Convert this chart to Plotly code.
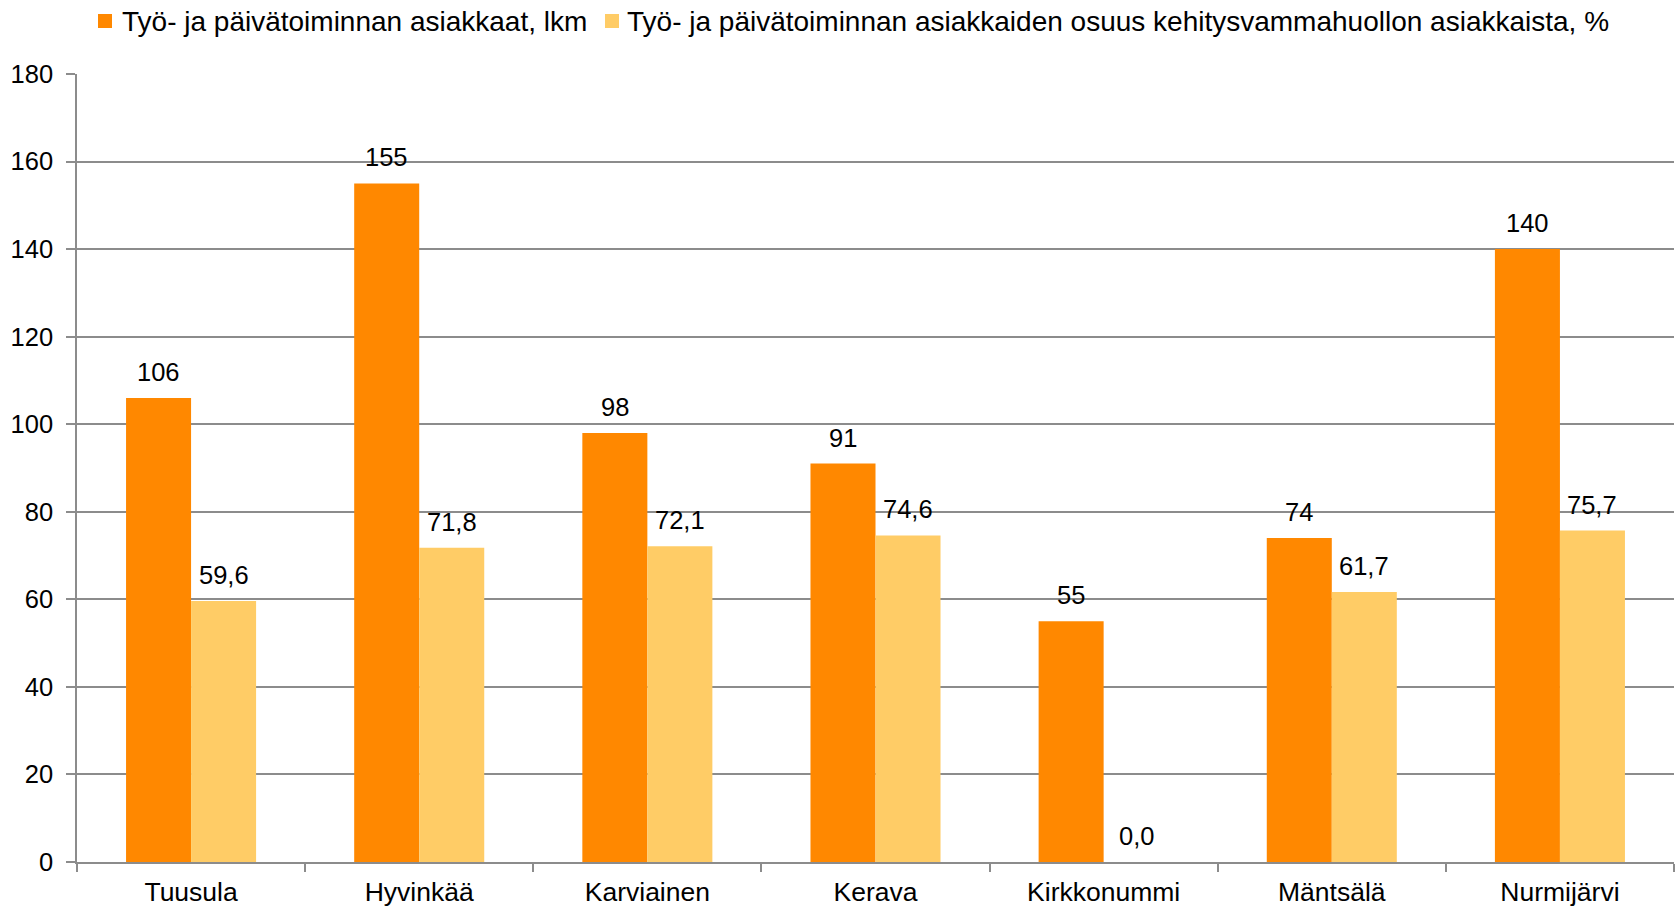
import plotly.graph_objects as go

# Municipalities and the two series
municipalities = ["Tuusula", "Hyvinkää", "Karviainen", "Kerava", "Kirkkonummi", "Mäntsälä", "Nurmijärvi"]
clients_count = [106, 155, 98, 91, 55, 74, 140]
clients_share = [59.6, 71.8, 72.1, 74.6, 0.0, 61.7, 75.7]

series_names = [
    "Työ- ja päivätoiminnan asiakkaat, lkm",
    "Työ- ja päivätoiminnan asiakkaiden osuus kehitysvammahuollon asiakkaista, %",
]
series_colors = ["#FF8800", "#FFCC66"]

y_ticks = [0, 20, 40, 60, 80, 100, 120, 140, 160, 180]

FONT = "Liberation Sans, Arial, sans-serif"
FS_LABEL = 25.5
FS_XTICK = 26.5
FS_YTICK = 25.5
FS_LEGEND = 28
W, H = 1680, 909
M_L, M_R, M_T, M_B = 77, 6, 74, 47
plot_w = W - M_L - M_R
plot_h = H - M_T - M_B


def fmt(v, decimals):
    return f"{v:.{decimals}f}".replace(".", ",")


fig = go.Figure()
fig.add_trace(go.Bar(x=municipalities, y=clients_count, name=series_names[0],
                     marker=dict(color=series_colors[0], line=dict(width=0))))
fig.add_trace(go.Bar(x=municipalities, y=clients_share, name=series_names[1],
                     marker=dict(color=series_colors[1], line=dict(width=0))))

bargap = 0.43
cat_px = plot_w / len(municipalities)
bar_px = cat_px * (1 - bargap) / 2

# value labels above each bar
for vals, dec, side in [(clients_count, 0, -1), (clients_share, 1, 1)]:
    for name, v in zip(municipalities, vals):
        fig.add_annotation(x=name, y=v, text=fmt(v, dec), showarrow=False,
                           xshift=side * bar_px / 2, yanchor="bottom", yshift=10,
                           font=dict(family=FONT, size=FS_LABEL, color="#000000"))

# legend drawn as swatches + labels along the top
legend_items = [(98, 120), (605, 625)]
for (sx, tx), name, col in zip(legend_items, series_names, series_colors):
    fig.add_shape(type="rect", xref="paper", yref="paper",
                  x0=(sx - M_L) / plot_w, x1=(sx + 14 - M_L) / plot_w,
                  y0=(H - M_B - 28) / plot_h, y1=(H - M_B - 14) / plot_h,
                  fillcolor=col, line=dict(width=0))
    fig.add_annotation(xref="paper", yref="paper", x=(tx - M_L) / plot_w,
                       y=(H - M_B - 21) / plot_h, xanchor="left", yanchor="middle",
                       text=name, showarrow=False,
                       font=dict(family=FONT, size=FS_LEGEND, color="#000000"))

fig.update_layout(
    width=W, height=H,
    margin=dict(l=M_L, r=M_R, t=M_T, b=M_B, autoexpand=False),
    paper_bgcolor="white", plot_bgcolor="white",
    barmode="group", bargap=bargap, bargroupgap=0,
    showlegend=False,
    font=dict(family=FONT, size=FS_LABEL, color="#000000"),
)
fig.update_xaxes(
    type="category", showline=True, linecolor="#8c8c8c", linewidth=1.5,
    ticks="outside", tickson="boundaries", ticklen=8, tickcolor="#8c8c8c", tickwidth=1.5,
    ticklabelstandoff=5, automargin=False,
    showgrid=False, tickfont=dict(family=FONT, size=FS_XTICK, color="#000000"),
)
fig.update_yaxes(
    range=[0, 180], tickvals=y_ticks, showline=True, linecolor="#8c8c8c", linewidth=1.5,
    ticks="outside", ticklen=9, tickcolor="#8c8c8c", tickwidth=1.5, ticklabelstandoff=8,
    automargin=False,
    showgrid=True, gridcolor="#8c8c8c", gridwidth=1.5, zeroline=False,
    tickfont=dict(family=FONT, size=FS_YTICK, color="#000000"),
)

fig.write_html("out.html")
